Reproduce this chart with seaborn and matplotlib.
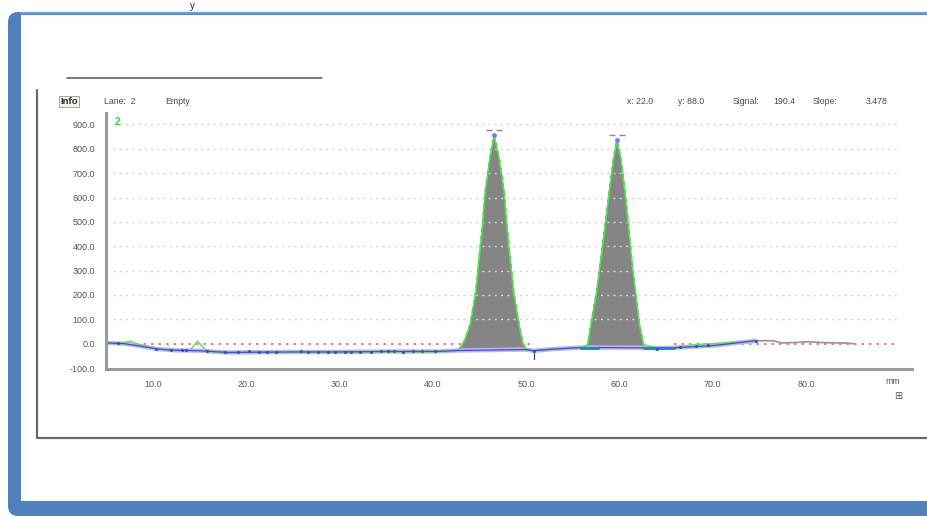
import numpy as np
import matplotlib
matplotlib.use("Agg")
import matplotlib.pyplot as plt
import seaborn as sns
from matplotlib.patches import FancyBboxPatch, Rectangle

# lane profile (mm, signal)
profile_mm = [5.0, 6.5, 7.6, 8.6, 10.5, 12.3, 14.0, 14.8, 15.8, 18.0, 22.0, 26.0,
              30.0, 34.0, 38.0, 40.5, 42.8, 43.37, 44.01, 44.62, 44.97, 45.34,
              45.62, 46.12, 46.58, 47.12, 47.65, 47.94, 48.30, 48.67, 49.26,
              49.62, 49.98, 50.8, 53.0, 55.9, 56.59, 56.95, 57.56, 58.02, 58.48,
              58.91, 59.38, 59.73, 60.16, 60.60, 60.97, 61.30, 61.73, 62.16,
              62.62, 64.0, 65.8, 68.0, 70.0, 72.0, 74.6]
signal = [3, 0, 10, -5, -22, -27, -28, 10, -30, -36, -34, -35,
          -34, -33, -33, -32, -25, 9, 78, 214, 351, 488,
          624, 761, 857, 761, 624, 488, 351, 214, 78,
          9, -25, -29, -22, -16, -4, 78, 214, 351, 488,
          624, 761, 836, 761, 624, 488, 351, 214, 78,
          -4, -18, -17, -4, 0, 5, 12]

# grey tail of the profile after the last marker
tail_mm = [74.6, 76.5, 77.3, 79.0, 80.2, 82.0, 84.0, 85.1]
tail_val = [12, 12, 3, 5, 8, 4, 3, 0]

# peaks (filled areas)
peak1_mm = [42.8, 43.37, 44.01, 44.62, 44.97, 45.34, 45.62, 46.12, 46.58, 47.12,
            47.65, 47.94, 48.30, 48.67, 49.26, 49.62, 49.98]
peak1_val = [-25, 9, 78, 214, 351, 488, 624, 761, 857, 761,
             624, 488, 351, 214, 78, 9, -25]
peak2_mm = [56.59, 56.95, 57.56, 58.02, 58.48, 58.91, 59.38, 59.73, 60.16, 60.60,
            60.97, 61.30, 61.73, 62.16, 62.62]
peak2_val = [-16, 78, 214, 351, 488, 624, 761, 836, 761, 624,
             488, 351, 214, 78, -16]

# baseline
base_mm = [5.0, 7.0, 9.0, 10.5, 12.3, 15.0, 18.0, 25.0, 30.0, 35.0, 40.5, 42.8,
           49.98, 50.8, 53.0, 55.9, 57.7, 62.6, 64.0, 65.8, 70.0, 74.6]
base_val = [3, 0, -12, -22, -27, -29, -36, -34, -34, -32, -32, -28,
            -24, -29, -22, -16, -16, -17, -18, -17, -8, 12]

dot_mm = [6.3, 10.4, 12.0, 13.1, 13.6, 15.8, 17.8, 19.1, 20.3, 21.4, 22.3, 23.2,
          25.9, 26.6, 27.7, 28.8, 29.5, 30.6, 31.3, 32.2, 33.4, 34.5, 35.2,
          35.9, 36.8, 37.9, 38.9, 40.2, 50.8, 64.0, 66.5, 68.2, 69.5, 74.6]
dot_val = [2, -22, -27, -27, -27, -30, -34, -33, -31, -34, -34, -34,
           -32, -33, -34, -33, -33, -33, -33, -34, -34, -31, -31,
           -31, -33, -31, -31, -31, -30, -22, -12, -8, -6, 12]

zero_segments = [(5.0, 43.0), (49.3, 50.5), (65.8, 89.7)]
y_ticks = [-100, 0, 100, 200, 300, 400, 500, 600, 700, 800, 900]
x_ticks = [10, 20, 30, 40, 50, 60, 70, 80]

sns.set_style("white")
plt.rcParams["font.family"] = ["Liberation Sans", "DejaVu Sans"]

W, H = 927, 518
fig = plt.figure(figsize=(W / 100, H / 100), dpi=100)

# --- window frame, drawn in pixel coordinates
bg = fig.add_axes([0, 0, 1, 1])
bg.set_xlim(0, W)
bg.set_ylim(H, 0)
bg.axis("off")
bg.add_patch(FancyBboxPatch((8, 12), 960, 504, boxstyle="round,pad=0,rounding_size=10",
                            fc="#4f81bd", ec="none"))
bg.add_patch(Rectangle((21, 14.5), 920, 486, fc="white", ec="none"))
bg.plot([21, 927], [13.2, 13.2], color="#6d9ee0", lw=1.6)
bg.plot([37, 37, 927], [90, 438, 438], color="#6a6a6a", lw=1.6)
bg.plot([67, 322], [78, 78], color="#555555", lw=1.1)
bg.text(192, 1, "y", fontsize=7, ha="center", va="top", color="#222222")

txt = dict(fontsize=6.3, color="#4a4a4a", va="center")
bg.text(60, 101.5, "Info", fontweight="bold", fontsize=6.8, color="#333333", va="center",
        bbox=dict(boxstyle="square,pad=0.15", fc="#f4f1e8", ec="#999999", lw=0.6))
bg.text(104, 101.5, "Lane:  2", **txt)
bg.text(165, 101.5, "Empty", **txt)
bg.text(627, 101.5, "x: 22.0", **txt)
bg.text(678, 101.5, "y: 88.0", **txt)
bg.text(733, 101.5, "Signal:", **txt)
bg.text(773, 101.5, "190.4", **txt)
bg.text(813, 101.5, "Slope:", **txt)
bg.text(866, 101.5, "3.478", **txt)
bg.text(893, 381, "mm", fontsize=6.3, color="#555555", ha="center", va="center")
bg.text(898, 396, "\u229e", fontsize=7, color="#555555", ha="center", va="center")

# --- the profile plot
x0, x1, y0, y1 = 106, 912, 113, 369
ax = fig.add_axes([x0 / W, 1 - y1 / H, (x1 - x0) / W, (y1 - y0) / H])
ax.patch.set_alpha(0)
ax.set_xlim(5.0, 91.35)
ax.set_ylim(-104, 947)

ax.hlines(y_ticks[2:], 5.7, 89.6, colors="#d4d4d4", linestyles=(0, (1.5, 3)), lw=1)
for a, b in zero_segments:
    ax.plot([a, b], [0, 0], color="#ff5a5a", ls=(0, (1.5, 3)), lw=1.2)

# baseline with lavender halo
ax.plot(base_mm, base_val, color="#b9b9f2", lw=3.2, solid_capstyle="round")
sns.lineplot(x=profile_mm, y=signal, sort=False, estimator=None, color="#66dd66",
             lw=1.1, ax=ax)
sns.lineplot(x=base_mm, y=base_val, sort=False, estimator=None, color="#4a4ad0",
             lw=0.9, ax=ax)
ax.plot([55.9, 57.7], [-16, -16], color="#1f7fe8", lw=2)
ax.plot([62.6, 65.8], [-17, -17], color="#1f7fe8", lw=2)

ax.fill(peak1_mm, peak1_val, color="#858585", lw=0)
ax.fill(peak2_mm, peak2_val, color="#858585", lw=0)
ax.plot(peak1_mm, peak1_val, color="#44dd44", ls=(0, (2, 2.5)), lw=1.3)
ax.plot(peak2_mm, peak2_val, color="#44dd44", ls=(0, (2, 2.5)), lw=1.3)
ax.plot([peak1_mm[8], peak2_mm[7]], [peak1_val[8], peak2_val[7]], "o",
        color="#7a7aff", ms=2.5)
ax.plot([46.0, 47.1, 59.2, 60.3], [878, 878, 858, 858], "_", color="#888888", ms=4)

sns.lineplot(x=tail_mm, y=tail_val, sort=False, estimator=None, color="#999999",
             lw=1.3, ax=ax)
ax.scatter(dot_mm, dot_val, s=5, color="#2a5a9a", zorder=5, lw=0)
ax.plot([50.8, 50.8], [-40, -62], color="#444444", lw=0.9)

ax.text(5.9, 912, "2", color="#33cc33", fontsize=7, fontweight="bold", va="center")

ax.set_yticks(y_ticks)
ax.set_yticklabels([f"{v:.1f}" for v in y_ticks])
ax.set_xticks(x_ticks)
ax.set_xticklabels([f"{v:.1f}" for v in x_ticks])
ax.tick_params(axis="y", length=0, pad=8, labelsize=6.5, labelcolor="#555555")
ax.tick_params(axis="x", length=3, width=0.8, color="#aaaaaa", pad=5,
               labelsize=6.5, labelcolor="#555555")
ax.set_xlabel("")
ax.set_ylabel("")
for side in ["top", "right"]:
    ax.spines[side].set_visible(False)
for side in ["left", "bottom"]:
    ax.spines[side].set_color("#999999")
    ax.spines[side].set_linewidth(2.2)

fig.savefig("out.png", dpi=100)
